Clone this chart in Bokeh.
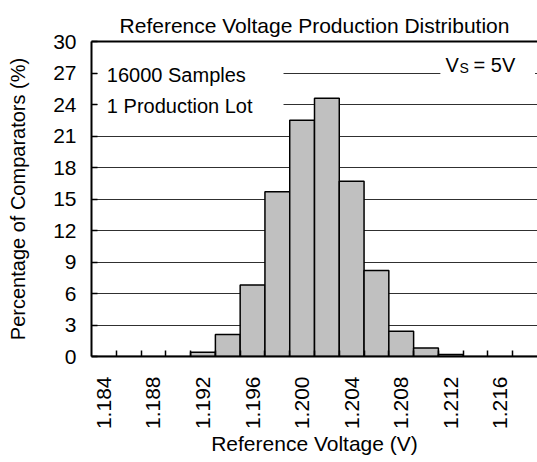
import math
from bokeh.plotting import figure
from bokeh.models import (FixedTicker, LinearAxis, Label, BoxAnnotation, Range1d)
from bokeh.embed import file_html
from bokeh.resources import INLINE

# ---- data ----
categories = ["1.184", "1.186", "1.188", "1.190", "1.192", "1.194", "1.196", "1.198",
              "1.200", "1.202", "1.204", "1.206", "1.208", "1.210", "1.212", "1.214",
              "1.216", "1.218"]
percentages = [0, 0, 0, 0, 0.4, 2.1, 6.8, 15.7, 22.5, 24.6, 16.7, 8.2, 2.4, 0.8, 0.2, 0, 0, 0]
y_ticks = [0, 3, 6, 9, 12, 15, 18, 21, 24, 27, 30]
labelled = ["1.184", "1.188", "1.192", "1.196", "1.200", "1.204", "1.208", "1.212", "1.216"]

FONT = "Liberation Sans"
n = len(categories)
centers = [i + 0.5 for i in range(n)]

p = figure(width=537, height=462, output_backend="svg", toolbar_location=None,
           x_range=Range1d(0, n), y_range=Range1d(0, 30),
           min_border_left=91, min_border_right=0, min_border_top=41, min_border_bottom=106,
           title="Reference Voltage Production Distribution")
p.outline_line_color = None
p.background_fill_color = "white"

p.title.text_font = FONT
p.title.text_font_size = "21px"
p.title.text_font_style = "normal"
p.title.align = "center"
p.title.text_color = "black"
p.title.text_line_height = 0.7

# bars
p.vbar(x=centers, top=percentages, width=1, bottom=0,
       fill_color="#C0C0C0", line_color="black", line_width=1.5)

# x axis
xax = p.xaxis[0]
xax.ticker = FixedTicker(ticks=[centers[categories.index(c)] for c in labelled],
                         minor_ticks=list(range(1, n)))
xax.major_label_overrides = {centers[categories.index(c)]: c for c in labelled}
xax.major_label_orientation = math.pi / 2
xax.major_tick_line_color = None
xax.minor_tick_in = 6
xax.minor_tick_out = 0
xax.minor_tick_line_color = "black"
xax.minor_tick_line_width = 1.5
xax.axis_line_width = 2
xax.axis_line_color = "black"
xax.major_label_text_font = FONT
xax.major_label_text_font_size = "21px"
xax.major_label_text_color = "black"
xax.major_label_standoff = 14
xax.axis_label = "Reference Voltage (V)"
xax.axis_label_text_font = FONT
xax.axis_label_text_font_size = "21px"
xax.axis_label_text_font_style = "normal"
xax.axis_label_text_color = "black"
xax.axis_label_standoff = 0

# y axis
yax = p.yaxis[0]
yax.ticker = FixedTicker(ticks=y_ticks)
yax.minor_tick_line_color = None
yax.major_tick_in = 6
yax.major_tick_out = 0
yax.major_tick_line_color = "black"
yax.major_tick_line_width = 1.5
yax.axis_line_width = 2
yax.axis_line_color = "black"
yax.major_label_text_font = FONT
yax.major_label_text_font_size = "21px"
yax.major_label_text_color = "black"
yax.major_label_standoff = 15
yax.axis_label = "Percentage of Comparators (%)"
yax.axis_label_text_font = FONT
yax.axis_label_text_font_size = "20px"
yax.axis_label_text_font_style = "normal"
yax.axis_label_text_color = "black"
yax.axis_label_standoff = 21

# top border
top = LinearAxis(ticker=FixedTicker(ticks=[]), axis_line_width=2, axis_line_color="black",
                 major_tick_line_color=None, minor_tick_line_color=None,
                 major_label_text_font_size="0px")
p.add_layout(top, "above")

# grid
p.xgrid.grid_line_color = None
p.ygrid.ticker = FixedTicker(ticks=y_ticks[1:-1])
p.ygrid.grid_line_color = "#303030"
p.ygrid.grid_line_width = 1

# white boxes behind the notes
p.add_layout(BoxAnnotation(left=0.25, right=7.75, bottom=22.8, top=28.2,
                           fill_color="white", fill_alpha=1, line_color=None))
p.add_layout(BoxAnnotation(left=14.08, right=17.9, bottom=25.5, top=28.9,
                           fill_color="white", fill_alpha=1, line_color=None))

def note(x, y, text, size="20px"):
    p.add_layout(Label(x=x, y=y, text=text, text_font=FONT, text_font_size=size,
                       text_baseline="middle", text_align="left", text_color="black"))

note(0.62, 26.8, "16000 Samples")
note(0.62, 23.9, "1 Production Lot")
note(14.29, 27.8, "V")
note(14.85, 27.45, "S", "14px")
note(15.42, 27.8, "= 5V")

open("out.html", "w").write(file_html(p, INLINE))
